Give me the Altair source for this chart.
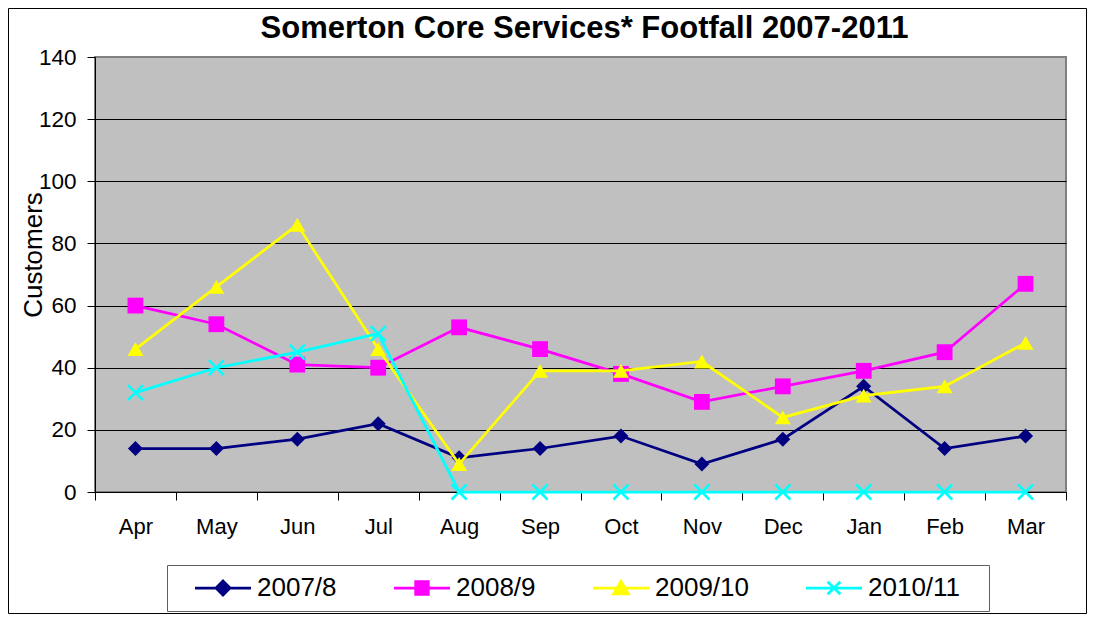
import altair as alt
import pandas as pd

# ---------------- data ----------------
title_text = "Somerton Core Services* Footfall 2007-2011"
months = ["Apr", "May", "Jun", "Jul", "Aug", "Sep", "Oct", "Nov", "Dec", "Jan", "Feb", "Mar"]
series_names = ["2007/8", "2008/9", "2009/10", "2010/11"]
v2007 = [14, 14, 17, 22, 11, 14, 18, 9, 17, 34, 14, 18]
v2008 = [60, 54, 41, 40, 53, 46, 38, 29, 34, 39, 45, 67]
v2009 = [46, 66, 86, 46, 9, 39, 39, 42, 24, 31, 34, 48]
v2010 = [32, 40, 45, 51, 0, 0, 0, 0, 0, 0, 0, 0]
y_ticks = [0, 20, 40, 60, 80, 100, 120, 140]

# ---------------- styles ----------------
colors = ["#000080", "#FF00FF", "#FFFF00", "#00FFFF"]
marker_shapes = ["diamond", "square", "triangle-up", "M-1,-1L1,1M-1,1L1,-1"]
marker_filled = [True, True, True, False]
marker_sizes = [225, 250, 256, 225]
legend_paths = [
    "M-6.571,0M-4,0H4M0,-1L1,0L0,1L-1,0Z",
    "M-6.571,0M-4,0H4M-0.9,-0.9H0.9V0.9H-0.9Z",
    "M-6.571,0M-4,0H4M0,-0.95L1.05,0.85L-1.05,0.85Z",
    "M-6.571,0M-4,0H4M-0.9,-0.9L0.9,0.9M-0.9,0.9L0.9,-0.9M19.8,0",
]
FONT = "Liberation Sans"

rows = []
for name, vals in zip(series_names, [v2007, v2008, v2009, v2010]):
    for i, (m, v) in enumerate(zip(months, vals)):
        rows.append({"month": m, "series": name, "value": v, "idx": i})
df = pd.DataFrame(rows)

x_enc = alt.X(
    "month:N",
    sort=months,
    scale=alt.Scale(type="band", paddingInner=0, paddingOuter=0),
    axis=alt.Axis(
        title=None, labelAngle=0, tickBand="extent", grid=False,
        labelFont=FONT, labelFontSize=22, labelColor="black", labelPadding=16,
        tickSize=8, tickColor="black", tickWidth=1,
        domainColor="black", domainWidth=1,
    ),
)
y_enc = alt.Y(
    "value:Q",
    scale=alt.Scale(domain=[0, 140], nice=False, zero=True),
    axis=alt.Axis(
        values=y_ticks, title="Customers",
        titleFont=FONT, titleFontSize=26, titleFontWeight="normal", titleColor="black",
        titleAngle=270, titleX=-54, titleY=197.5, titleBaseline="alphabetic", titleAlign="center",
        labelFont=FONT, labelFontSize=22.5, labelColor="black", labelPadding=11,
        tickSize=8, tickColor="black", tickWidth=1,
        domainColor="black", domainWidth=1,
        grid=True, gridWidth=1,
        gridColor={"condition": {"test": "datum.value >= 140", "value": "#808080"}, "value": "black"},
    ),
)

layers = []

# outer chart frame
frame = alt.Chart(pd.DataFrame({"f": [0]})).mark_rect(
    fillOpacity=0, stroke="black", strokeWidth=1
).encode(
    x=alt.value(-86.5), x2=alt.value(991.5), y=alt.value(-48.5), y2=alt.value(556.5)
)
layers.append(frame)

# chart title
title_layer = alt.Chart(pd.DataFrame({"t": [title_text]})).mark_text(
    font=FONT, fontSize=31, fontWeight="bold", color="black",
    align="center", baseline="alphabetic",
).encode(text="t:N", x=alt.value(489.5), y=alt.value(-19))
layers.append(title_layer)

base = alt.Chart(df)
for name, col, shp, fil, sz in zip(series_names, colors, marker_shapes, marker_filled, marker_sizes):
    sub = base.transform_filter(alt.datum.series == name)
    layers.append(
        sub.mark_line(color=col, strokeWidth=2.75).encode(x=x_enc, y=y_enc, order="idx:Q")
    )
    layers.append(
        sub.mark_point(shape=shp, filled=fil, size=sz, color=col, opacity=1, strokeWidth=2.5).encode(
            x=x_enc, y=y_enc
        )
    )

legend = alt.Legend(
    orient="none", legendX=72, legendY=508, direction="horizontal", columns=4,
    title=None, labelFont=FONT, labelFontSize=26, labelColor="black", labelLimit=0,
    symbolSize=196, symbolStrokeWidth=2.75, symbolOffset=33, labelOffset=21,
    columnPadding=33, padding=10, strokeColor="#606060", fillColor="white",
    symbolOpacity=1, gridAlign="none",
)
legend_layer = base.transform_filter("false").mark_point(
    filled=True, opacity=1, size=196, strokeWidth=2.75
).encode(
    x=x_enc, y=y_enc,
    color=alt.Color("series:N", scale=alt.Scale(domain=series_names, range=colors), legend=legend),
    stroke=alt.Stroke("series:N", scale=alt.Scale(domain=series_names, range=colors), legend=legend),
    shape=alt.Shape("series:N", scale=alt.Scale(domain=series_names, range=legend_paths), legend=legend),
)
layers.append(legend_layer)

chart = alt.layer(*layers).properties(
    width=971, height=435,
    autosize=alt.AutoSizeParams(type="none"),
    padding={"left": 87, "top": 49, "right": 21, "bottom": 122},
    background="white",
).configure_view(fill="#C0C0C0", stroke="#808080", strokeWidth=2)

chart.save("out.html", embed_options={"renderer": "svg", "actions": False})
